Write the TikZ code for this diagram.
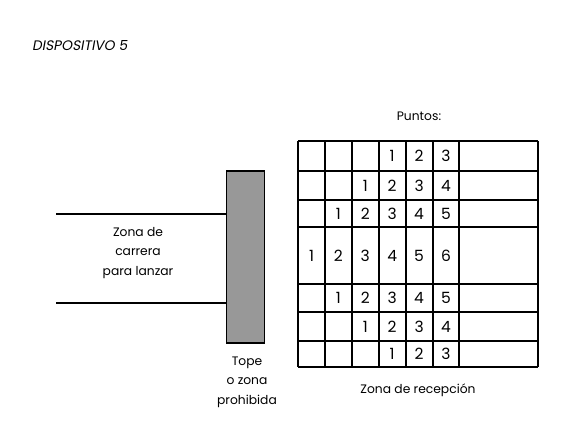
\documentclass[tikz,border=0pt]{standalone}
\usepackage{fontspec}
\setmainfont{Poppins}
\newfontfamily\slantfont[FakeSlant=0.18]{Poppins}
\begin{document}
\begin{tikzpicture}[x=1pt,y=-1pt,
  gridline/.style={line width=1.8pt},
  lane/.style={line width=1.7pt},
  label/.style={align=center,font=\fontsize{12.3}{19.5}\selectfont,inner sep=0pt},
  num/.style={font=\fontsize{15.5}{17}\selectfont,inner sep=0pt},
  tope/.style={draw,line width=1.8pt,fill=gray!85!black!70,minimum width=38pt,minimum height=172pt,inner sep=0pt}]
\useasboundingbox (0,0) rectangle (562,443);
% title
\node[anchor=west,font=\slantfont\fontsize{13.8}{16}\selectfont,inner sep=0pt] (title) at (32,46) {DISPOSITIVO 5};
% stop block
\node[tope] (tope) at (245.5,257) {};
\coordinate (l1) at (56,214);
\coordinate (l2) at (56,303);
\draw[lane] (l1) -- (l1 -| tope.west);
\draw[lane] (l2) -- (l2 -| tope.west);
\node[label] (carrera) at (138,253) {Zona de\\carrera\\para lanzar};
\node[label] (topetxt) at (247,382) {Tope\\o zona\\prohibida};
% grid
\foreach \x in {298,325,352,379,406,433,459,538}
  \draw[gridline] (\x,141) -- (\x,367);
\foreach \y in {141,171,200,227,284,312,341,367}
  \draw[gridline] (298,\y) -- (538,\y);
\foreach \y [count=\r from 0] in {156,185.5,213.5,255.5,298,326.5,354} {
  \pgfmathtruncatemacro\cz{abs(3-\r)}
  \foreach \c in {\cz,...,5} {
    \pgfmathtruncatemacro\k{\c-\cz+1}
    \node[num] (n\r-\c) at (311.5+26.9*\c,\y) {\k};
  }
}
\node[label] (puntos) at (419,116) {Puntos:};
\node[label] (recep) at (418,390) {Zona de recepción};
\end{tikzpicture}
\end{document}
